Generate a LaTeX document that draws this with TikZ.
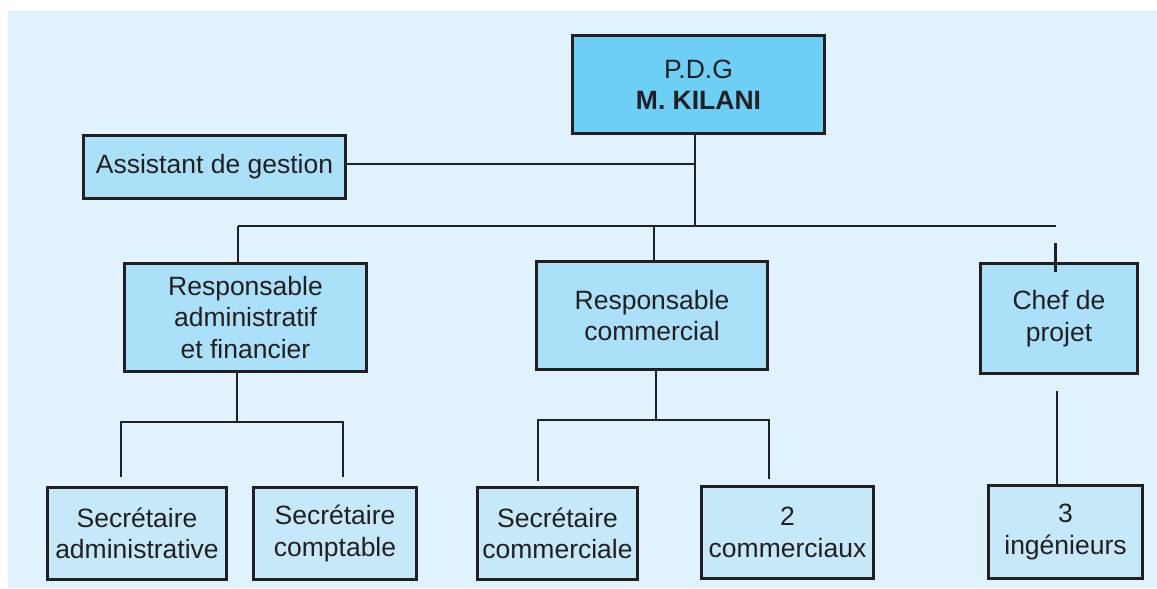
\documentclass[tikz,border=0pt]{standalone}
\usepackage{fontspec}
\setmainfont{Liberation Sans}
\definecolor{bg}{HTML}{E0F3FD}
\definecolor{ptop}{HTML}{6DCFF6}
\definecolor{pmid}{HTML}{ABE1F8}
\definecolor{plow}{HTML}{C6E9F9}
\definecolor{ink}{HTML}{231F20}
\begin{document}
\begin{tikzpicture}[x=1pt,y=-1pt,
  basebox/.style={draw=ink, line width=2.8pt, text=ink, align=center, inner sep=0pt,
    font=\fontsize{26.5}{31.5}\selectfont},
  topbox/.style={basebox, fill=ptop},
  midbox/.style={basebox, fill=pmid},
  lowbox/.style={basebox, fill=plow},
  conn/.style={draw=ink, line width=2.8pt}]
\useasboundingbox (0,0) rectangle (1157,589);
\fill[bg] (8,11) rectangle (1157,588);

% nodes
\node[topbox, minimum width=252, minimum height=98] (pdg) at (698.5,84.5) {P.D.G\\\textbf{M. KILANI}};
\node[midbox, minimum width=262, minimum height=63] (asst) at (214.5,167) {Assistant de gestion};
\node[midbox, minimum width=242, minimum height=108] (raf) at (245.5,317.5) {Responsable\\administratif\\et financier};
\node[midbox, minimum width=231, minimum height=108] (rc) at (652,315.5) {Responsable\\commercial};
\node[midbox, minimum width=157, minimum height=110] (chef) at (1059,318.5) {Chef de\\projet};
\node[lowbox, minimum width=179, minimum height=92] (sa) at (137,533.5) {Secrétaire\\administrative};
\node[lowbox, minimum width=163, minimum height=92] (sc) at (335,533.5) {Secrétaire\\comptable};
\node[lowbox, minimum width=160, minimum height=92] (scom) at (557.5,533.5) {Secrétaire\\commerciale};
\node[lowbox, minimum width=172, minimum height=92] (com2) at (787.5,532.5) {2\\commerciaux};
\node[lowbox, minimum width=154, minimum height=93] (ing) at (1065.5,532) {3\\ingénieurs};

% junction coordinates
\coordinate (j0) at (695,226);
\coordinate (a1) at (695,164);
\coordinate (bL) at (238,226);
\coordinate (bM) at (654,226);
\coordinate (bR) at (1056,226);
\coordinate (t1) at (1055.5,243);
\coordinate (t2) at (1055.5,272);
\coordinate (c1) at (1057,391);
\coordinate (r1) at (237,422);
\coordinate (r1L) at (121,422);
\coordinate (r1R) at (343,422);
\coordinate (d1L) at (121,477);
\coordinate (d1R) at (343,477);
\coordinate (r2) at (656,420);
\coordinate (r2L) at (538,420);
\coordinate (r2R) at (769,420);
\coordinate (d2L) at (538,481);
\coordinate (d2R) at (769,479);

% connectors
\draw[conn] (pdg.south -| j0) -- (j0);
\draw[conn] (asst.east |- a1) -- (a1);
\draw[conn] (bL) -- (bR);
\draw[conn] (bL) -- (raf.north -| bL);
\draw[conn] (bM) -- (rc.north -| bM);
\draw[conn] (t1) -- (t2);
\draw[conn] (c1) -- (ing.north -| c1);
\draw[conn] (raf.south -| r1) -- (r1);
\draw[conn] (d1L) -- (r1L) -- (r1R) -- (d1R);
\draw[conn] (rc.south -| r2) -- (r2);
\draw[conn] (d2L) -- (r2L) -- (r2R) -- (d2R);
\end{tikzpicture}
\end{document}
